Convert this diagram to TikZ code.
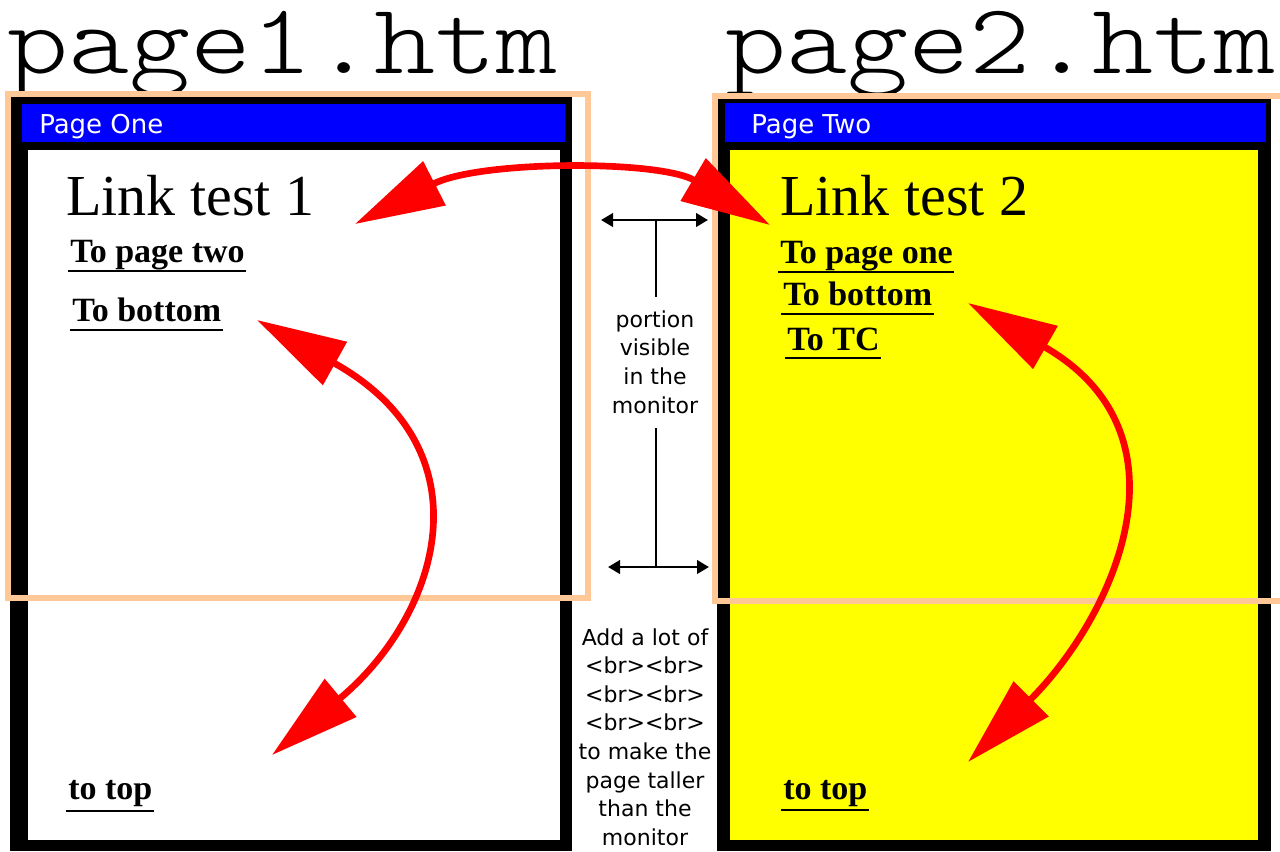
\documentclass[tikz,border=0pt]{standalone}
\usepackage{fontspec}
\usepackage{graphicx}
\setmainfont{Liberation Serif}
\setsansfont{DejaVu Sans}
\newfontfamily\lighttt{lmmonolt10-regular.otf}
\usetikzlibrary{arrows.meta}
\definecolor{peach}{RGB}{255,200,150}
\definecolor{pblue}{RGB}{0,0,255}
\definecolor{pyellow}{RGB}{255,255,0}
\definecolor{pred}{RGB}{255,0,0}
\newcommand{\widetitle}[1]{\scalebox{1.165}[1]{#1}}
\begin{document}
\begin{tikzpicture}[x=0.75pt,y=-0.75pt,
  title/.style={anchor=base west,inner sep=0,font=\lighttt\fontsize{75}{75}\selectfont},
  bartext/.style={anchor=base west,inner sep=0,text=white,font=\sffamily\fontsize{19.5}{20}\selectfont},
  heading/.style={anchor=base west,inner sep=0,font=\rmfamily\fontsize{43.5}{44}\selectfont},
  linktext/.style={anchor=base west,inner sep=0,font=\rmfamily\bfseries\fontsize{25.5}{26}\selectfont},
  uline/.style={line width=1.5pt},
  note/.style={anchor=base,inner sep=0,font=\sffamily\fontsize{16.5}{17}\selectfont},
  monitor/.style={draw=peach,line width=3.8pt},
  redarrow/.style={draw=pred,line width=5pt,{Triangle[length=67pt,width=36pt]}-{Triangle[length=67pt,width=36pt]}},
  dimarrow/.style={line width=2.2pt,{Triangle[length=9pt,width=10pt]}-{Triangle[length=9pt,width=10pt]}},
  dimline/.style={line width=2.2pt},
]
\useasboundingbox[fill=white] (0,0) rectangle (1280,851);
\clip (0,0) rectangle (1280,851);

% page frames
\fill[black] (10,97) rectangle (572,851);
\fill[white] (28,150) rectangle (560,840);
\fill[pblue] (22,104) rectangle (565,142);
\fill[black] (717,97) rectangle (1271,851);
\fill[pyellow] (730,150) rectangle (1258,840);
\fill[pblue] (725,103) rectangle (1266,142);

% titles
\node[title] (t1) at (7,73) {\widetitle{page1.htm}};
\node[title] (t2) at (725,73) {\widetitle{page2.htm}};
\node[bartext] (b1) at (39,133) {Page One};
\node[bartext] (b2) at (751,133) {Page Two};
\node[heading] (h1) at (66,215) {Link test 1};
\node[heading] (h2) at (780,215) {Link test 2};

% links
\node[linktext] (l1) at (70,262) {To page two};
\node[linktext] (l2) at (72,321) {To bottom};
\node[linktext] (l3) at (68,799) {to top};
\node[linktext] (r1) at (780,263) {To page one};
\node[linktext] (r2) at (783,305) {To bottom};
\node[linktext] (r3) at (787,350) {To TC};
\node[linktext] (r4) at (783,799) {to top};
\foreach \n/\d in {l1/7pt,l2/7pt,l3/9pt,r1/7pt,r2/7pt,r3/6pt,r4/8.5pt}
  \draw[uline] ([xshift=-1.5pt,yshift=-\d]\n.base west) -- ([xshift=1pt,yshift=-\d]\n.base east);

% visible portion of the monitor
\draw[monitor] (8,94) rectangle (588,598);
\draw[monitor] (715,96) rectangle (1290,601);

% middle annotation
\coordinate (ta1) at (601,220);
\coordinate (ta2) at (708,220);
\coordinate (tm) at (656,220);
\coordinate (tv) at (656,297);
\coordinate (ba1) at (608,567);
\coordinate (ba2) at (709,567);
\coordinate (bm) at (656,567);
\coordinate (bv) at (656,428);
\draw[dimarrow] (ta1) -- (ta2);
\draw[dimline] (tm) -- (tv);
\draw[dimarrow] (ba1) -- (ba2);
\draw[dimline] (bm) -- (bv);
\foreach \t/\y [count=\i] in {portion/327,visible/355,in the/384,monitor/413}
  \node[note] (p\i) at (655,\y) {\t};
\foreach \t/\y [count=\i] in {Add a lot of/645,<br><br>/673.6,<br><br>/702.2,<br><br>/730.8,to make the/759.4,page taller/788,than the/816.6,monitor/845.2}
  \node[note] (q\i) at (645,\y) {\t};

% red link arrows
\coordinate (a1) at (355,224);
\coordinate (a2) at (770,225);
\draw[redarrow] (a1) .. controls (480,160) and (660,160) .. (a2);
\coordinate (c1) at (257,320);
\coordinate (c2) at (272,755);
\draw[redarrow] (c1) .. controls (490,450) and (440,615) .. (c2);
\coordinate (d1) at (968,303);
\coordinate (d2) at (968,762);
\draw[redarrow] (d1) .. controls (1198,435) and (1113,617) .. (d2);
\end{tikzpicture}
\end{document}
